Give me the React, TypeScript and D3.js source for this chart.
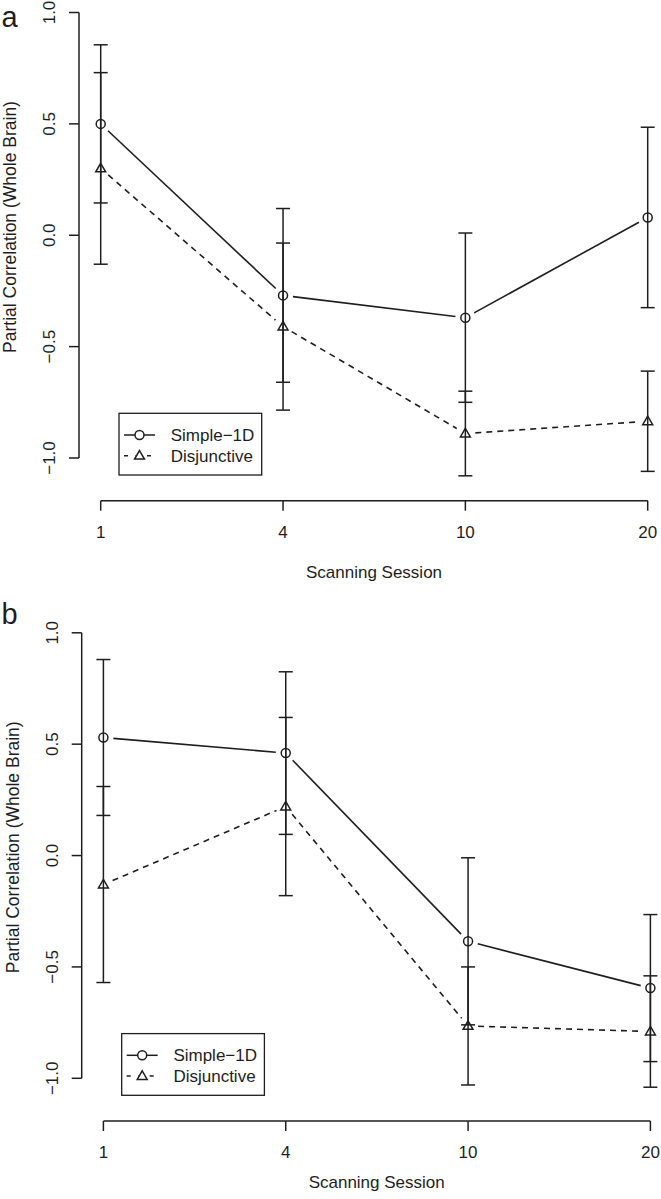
import React from "react";
import * as d3 from "d3";

const sessions = ["1", "4", "10", "20"];
const yTicks = [-1.0, -0.5, 0.0, 0.5, 1.0];
const seriesNames = ["Simple\u22121D", "Disjunctive"];

const simpleA = [0.5, -0.27, -0.37, 0.08];
const simpleErrA = [0.355, 0.39, 0.38, 0.405];
const disjA = [0.3, -0.41, -0.89, -0.835];
const disjErrA = [0.43, 0.375, 0.19, 0.225];

const simpleB = [0.53, 0.46, -0.385, -0.595];
const simpleErrB = [0.35, 0.365, 0.375, 0.33];
const disjB = [-0.13, 0.22, -0.765, -0.79];
const disjErrB = [0.44, 0.4, 0.265, 0.25];

const INK = "#1e1e1e";
const FONT = "'Liberation Sans', Arial, Helvetica, sans-serif";

type PanelProps = {
  label: string;
  dx: number;
  dy: number;
  simple: number[];
  simpleErr: number[];
  disj: number[];
  disjErr: number[];
  titleDy: number;
  labelY: number;
};

function gapSegments(pts: [number, number][], gap: number) {
  const segs: [number, number, number, number][] = [];
  for (let i = 0; i < pts.length - 1; i++) {
    const [x1, y1] = pts[i];
    const [x2, y2] = pts[i + 1];
    const len = Math.hypot(x2 - x1, y2 - y1);
    const ux = (x2 - x1) / len;
    const uy = (y2 - y1) / len;
    segs.push([x1 + ux * gap, y1 + uy * gap, x2 - ux * gap, y2 - uy * gap]);
  }
  return segs;
}

function triPath(cx: number, cy: number, r: number) {
  const h = r * 1.9;
  const w = r * 1.1;
  return `M${cx},${cy - h * 0.6} L${cx + w},${cy + h * 0.4} L${cx - w},${cy + h * 0.4} Z`;
}

function Panel(p: PanelProps) {
  const x = d3.scalePoint<string>().domain(sessions).range([100.7 + p.dx, 647.7 + p.dx]);
  const y = d3.scaleLinear().domain([-1, 1]).range([458 + p.dy, 12.5 + p.dy]);
  const axisX = 79 + p.dx;
  const xAxisY = 500.7 + p.dy;
  const capW = 7;
  const gap = 10;

  const sPts: [number, number][] = sessions.map((s, i) => [x(s)!, y(p.simple[i])]);
  const dPts: [number, number][] = sessions.map((s, i) => [x(s)!, y(p.disj[i])]);

  const errBars = (vals: number[], errs: number[], key: string) =>
    sessions.map((s, i) => {
      const cx = x(s)!;
      const top = y(vals[i] + errs[i]);
      const bot = y(vals[i] - errs[i]);
      return (
        <g key={key + i} stroke={INK} strokeWidth={1.5}>
          <line x1={cx} x2={cx} y1={top} y2={bot} />
          <line x1={cx - capW} x2={cx + capW} y1={top} y2={top} />
          <line x1={cx - capW} x2={cx + capW} y1={bot} y2={bot} />
        </g>
      );
    });

  const legX = 119 + p.dx;
  const legY = 413.3 + p.dy;

  return (
    <g>
      <text x={1.5} y={p.labelY} fontSize={29} fontFamily={FONT} fill={INK}>
        {p.label}
      </text>
      {/* y axis */}
      <line x1={axisX} x2={axisX} y1={y(-1)} y2={y(1)} stroke={INK} strokeWidth={1.5} />
      {yTicks.map((t) => (
        <g key={t}>
          <line x1={axisX - 10} x2={axisX} y1={y(t)} y2={y(t)} stroke={INK} strokeWidth={1.5} />
          <text
            transform={`translate(${55 + p.dx},${y(t)}) rotate(-90)`}
            textAnchor="middle"
            fontSize={17}
            fontFamily={FONT}
            fill={INK}
          >
            {t === 0 ? "0.0" : (t < 0 ? "\u2212" : "") + Math.abs(t).toFixed(1)}
          </text>
        </g>
      ))}
      <text
        transform={`translate(${16 + p.dx},${227 + p.dy}) rotate(-90)`}
        textAnchor="middle"
        fontSize={17.5}
        fontFamily={FONT}
        fill={INK}
      >
        Partial Correlation (Whole Brain)
      </text>
      {/* x axis */}
      <line x1={x(sessions[0])!} x2={x(sessions[sessions.length - 1])!} y1={xAxisY} y2={xAxisY} stroke={INK} strokeWidth={1.5} />
      {sessions.map((s) => (
        <g key={s}>
          <line x1={x(s)!} x2={x(s)!} y1={xAxisY} y2={xAxisY + 10} stroke={INK} strokeWidth={1.5} />
          <text x={x(s)!} y={537.5 + p.dy} textAnchor="middle" fontSize={17} fontFamily={FONT} fill={INK}>
            {s}
          </text>
        </g>
      ))}
      <text x={374 + p.dx} y={578 + p.dy + p.titleDy} textAnchor="middle" fontSize={17} fontFamily={FONT} fill={INK}>
        Scanning Session
      </text>
      {/* error bars */}
      {errBars(p.simple, p.simpleErr, "s")}
      {errBars(p.disj, p.disjErr, "d")}
      {/* lines */}
      {gapSegments(sPts, gap).map((g, i) => (
        <line key={"sl" + i} x1={g[0]} y1={g[1]} x2={g[2]} y2={g[3]} stroke={INK} strokeWidth={1.6} />
      ))}
      {gapSegments(dPts, gap).map((g, i) => (
        <line key={"dl" + i} x1={g[0]} y1={g[1]} x2={g[2]} y2={g[3]} stroke={INK} strokeWidth={1.6} strokeDasharray="6,5" />
      ))}
      {/* points */}
      {sPts.map((pt, i) => (
        <circle key={"sp" + i} cx={pt[0]} cy={pt[1]} r={4.5} fill="none" stroke={INK} strokeWidth={1.5} />
      ))}
      {dPts.map((pt, i) => (
        <path key={"dp" + i} d={triPath(pt[0], pt[1], 4.5)} fill="none" stroke={INK} strokeWidth={1.5} />
      ))}
      {/* legend */}
      <rect x={legX} y={legY} width={142.7} height={61.7} fill="white" stroke={INK} strokeWidth={1.3} />
      <line x1={legX + 5} x2={legX + 36} y1={legY + 21.7} y2={legY + 21.7} stroke={INK} strokeWidth={1.5} />
      <circle cx={legX + 20.5} cy={legY + 21.7} r={4.5} fill="white" stroke={INK} strokeWidth={1.5} />
      <line x1={legX + 5} x2={legX + 36} y1={legY + 42.4} y2={legY + 42.4} stroke={INK} strokeWidth={1.5} strokeDasharray="4,7.5" strokeDashoffset={0} />
      <path d={triPath(legX + 20.5, legY + 42.4, 4.5)} fill="white" stroke={INK} strokeWidth={1.5} />
      <text x={legX + 51.7} y={legY + 27.7} fontSize={17} fontFamily={FONT} fill={INK}>
        {seriesNames[0]}
      </text>
      <text x={legX + 51.7} y={legY + 48.4} fontSize={17} fontFamily={FONT} fill={INK}>
        {seriesNames[1]}
      </text>
    </g>
  );
}

export default function App() {
  return (
    <svg
      width={661}
      height={1199}
      viewBox="0 0 661 1199"
      style={{ position: "absolute", left: 0, top: 0, background: "white" }}
    >
      <rect width={661} height={1199} fill="white" />
      <Panel label="a" dx={0} dy={0} labelY={27} simple={simpleA} simpleErr={simpleErrA} disj={disjA} disjErr={disjErrA} titleDy={0} />
      <Panel label="b" dx={2.7} dy={620.3} labelY={624} simple={simpleB} simpleErr={simpleErrB} disj={disjB} disjErr={disjErrB} titleDy={-10} />
    </svg>
  );
}
